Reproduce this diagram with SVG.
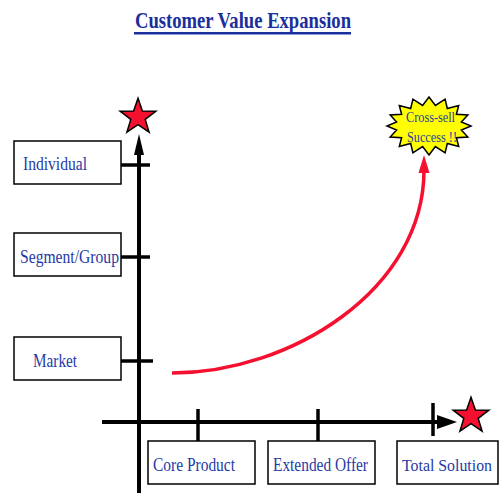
<svg xmlns="http://www.w3.org/2000/svg" width="500" height="493" viewBox="0 0 500 493">
<style>
.lbl{font-family:"Liberation Serif","Times New Roman",serif;font-size:19px;fill:#1F3AA6}
.sm{font-size:15px}
.box{fill:#fff;stroke:#000;stroke-width:1.5}
.axis{stroke:#000;stroke-width:4;fill:none}
.tick{stroke:#000;stroke-width:3.5;fill:none}
.star{fill:#F5102F;stroke:#000;stroke-width:1.5;stroke-linejoin:miter}
</style>
<defs>
<path id="starShape" d="M0,-18.8 L4.4,-6.1 L17.9,-5.8 L7.2,2.4 L11.1,15.2 L0,7.6 L-11.1,15.2 L-7.2,2.4 L-17.9,-5.8 L-4.4,-6.1 Z"/>
</defs>
<rect width="500" height="493" fill="#fff"/>
<g id="title">
<text x="243" y="28" text-anchor="middle" font-family="Liberation Serif,Times New Roman,serif" font-size="23" font-weight="bold" fill="#1A2E9C" textLength="216" lengthAdjust="spacingAndGlyphs">Customer Value Expansion</text>
<rect x="134" y="32" width="217" height="2.5" fill="#1A2E9C"/>
</g>
<g id="connectors">
<line class="axis" x1="139" y1="493" x2="139" y2="152"/>
<polygon points="139,134 134,155 144,155" fill="#000"/>
<line class="axis" x1="102" y1="422" x2="440" y2="422"/>
<polygon points="457,422 437,415 437,429" fill="#000"/>
<line class="tick" x1="121" y1="165" x2="150" y2="165"/>
<line class="tick" x1="121" y1="257" x2="150" y2="257"/>
<line class="tick" x1="121" y1="361" x2="153" y2="361"/>
<line class="tick" x1="198" y1="409" x2="198" y2="441"/>
<line class="tick" x1="318" y1="409" x2="318" y2="441"/>
<line class="tick" x1="433" y1="403" x2="433" y2="436"/>
<path d="M172,373 C290,373 424,290 424,170" fill="none" stroke="#F5102F" stroke-width="3.5"/>
<polygon points="424,155 418.5,173 429.5,173" fill="#F5102F"/>
</g>
<g id="star-top"><use href="#starShape" class="star" transform="translate(138,117)"/></g>
<g id="star-right"><use href="#starShape" class="star" transform="translate(471,416)"/></g>
<g id="individual">
<rect class="box" x="14" y="141" width="107" height="43"/>
<text class="lbl" x="23" y="170" textLength="64" lengthAdjust="spacingAndGlyphs">Individual</text>
</g>
<g id="segment">
<rect class="box" x="14" y="233" width="107" height="43"/>
<text class="lbl" x="20" y="263" textLength="99" lengthAdjust="spacingAndGlyphs">Segment/Group</text>
</g>
<g id="market">
<rect class="box" x="14" y="337" width="107" height="43"/>
<text class="lbl" x="33" y="367" textLength="44" lengthAdjust="spacingAndGlyphs">Market</text>
</g>
<g id="core-product">
<rect class="box" x="148" y="441" width="107" height="43"/>
<text class="lbl" x="153" y="471" textLength="82" lengthAdjust="spacingAndGlyphs">Core Product</text>
</g>
<g id="extended-offer">
<rect class="box" x="268" y="441" width="107" height="43"/>
<text class="lbl" x="273" y="471" textLength="95" lengthAdjust="spacingAndGlyphs">Extended Offer</text>
</g>
<g id="total-solution">
<rect class="box" x="397" y="441" width="101" height="43"/>
<text class="lbl" x="402" y="471" style="font-size:17.5px" textLength="90" lengthAdjust="spacingAndGlyphs">Total Solution</text>
</g>
<g id="cross-sell">
<polygon points="471,126 461.4,130.1 467.8,137.1 456.4,137.7 458.7,146.5 447.3,143.5 445.1,152.8 435.4,146.6 429,155 422.6,146.6 412.9,152.8 410.7,143.5 399.3,146.5 401.6,137.7 390.2,137.1 396.6,130.1 387,126 396.6,121.9 390.2,114.9 401.6,114.3 399.3,105.5 410.7,108.5 412.9,99.2 422.6,105.4 429,97 435.4,105.4 445.1,99.2 447.3,108.5 458.7,105.5 456.4,114.3 467.8,114.9 461.4,121.9" fill="#FFFF00" stroke="#000" stroke-width="1.5"/>
<text class="lbl sm" x="406" y="122" textLength="49" lengthAdjust="spacingAndGlyphs">Cross-sell</text>
<text class="lbl sm" x="407" y="142" textLength="50" lengthAdjust="spacingAndGlyphs">Success !!</text>
</g>
</svg>
